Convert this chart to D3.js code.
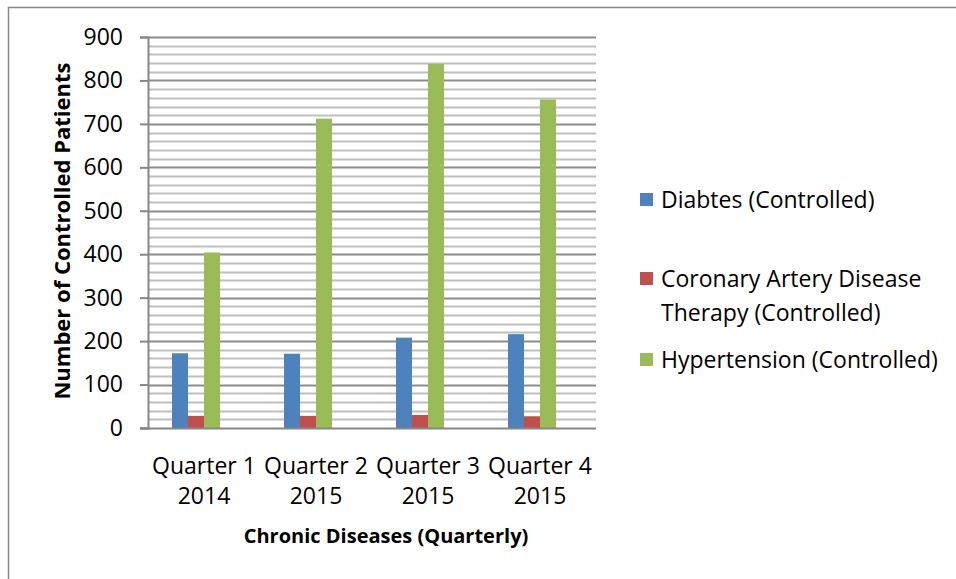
<!DOCTYPE html>
<html><head><meta charset="utf-8">
<script src="https://cdn.jsdelivr.net/npm/d3@7"></script>
<style>body{margin:0;background:#fff}svg{display:block;font-family:"Open Sans",sans-serif}</style>
</head><body><svg id="c" width="956" height="579"></svg>
<script>
const categories = [["Quarter 1","2014"],["Quarter 2","2015"],["Quarter 3","2015"],["Quarter 4","2015"]];
const seriesNames = ["Diabtes (Controlled)", "Coronary Artery Disease Therapy (Controlled)", "Hypertension (Controlled)"];
const diabetes = [172, 171, 208, 216];
const coronary = [28, 28, 30, 27];
const hypertension = [404, 712, 838, 756];
const yTicks = [0,100,200,300,400,500,600,700,800,900];
const colors = ["#4f81bd","#c0504d","#9bbb59"];
const series = [diabetes, coronary, hypertension];

const svg = d3.select("#c");
const m = {l:148, r:596, t:37, b:428};
svg.append("rect").attr("x",8.5).attr("y",7.5).attr("width",960).attr("height",600)
  .attr("fill","#fff").attr("stroke","#868686").attr("stroke-width",1.5);

const x = d3.scaleBand().domain(d3.range(categories.length)).range([m.l,m.r]).paddingInner(0).paddingOuter(0);
const y = d3.scaleLinear().domain([0,900]).range([m.b,m.t]);
// four slots per group (the fourth is an empty series slot in the original chart)
const gx = d3.scaleBand().domain(d3.range(4)).range([0,64]);
const off = (x.bandwidth()-64)/2;

// minor gridlines
const minor = d3.range(20,901,20).filter(v=>v%100!==0);
svg.append("g").selectAll("line").data(minor).join("line")
  .attr("x1",m.l).attr("x2",m.r).attr("y1",d=>Math.round(y(d))+0.5).attr("y2",d=>Math.round(y(d))+0.5)
  .attr("stroke","#bfbfbf").attr("stroke-width",2);
// major gridlines
svg.append("g").selectAll("line").data(yTicks.filter(v=>v>0)).join("line")
  .attr("x1",m.l).attr("x2",m.r).attr("y1",d=>Math.round(y(d))+0.5).attr("y2",d=>Math.round(y(d))+0.5)
  .attr("stroke","#8c8c8c").attr("stroke-width",2);

// bars
series.forEach((s,si)=>{
  svg.append("g").selectAll("rect").data(s).join("rect")
    .attr("x",(d,i)=>x(i)+off+gx(si)).attr("width",gx.bandwidth())
    .attr("y",d=>y(d)).attr("height",d=>y(0)-y(d)).attr("fill",colors[si]);
});

// y axis
const ya = svg.append("g").attr("transform",`translate(${m.l},0)`)
  .call(d3.axisLeft(y).tickValues(yTicks).tickSize(8).tickPadding(17));
ya.select(".domain").attr("stroke","#868686").attr("stroke-width",2);
ya.selectAll(".tick line").attr("stroke","#868686").attr("stroke-width",2);
ya.selectAll(".tick text").attr("font-size",23).attr("fill","#000").attr("font-family","Open Sans");
// x axis line
svg.append("line").attr("x1",m.l-8).attr("x2",m.r).attr("y1",m.b+0.5).attr("y2",m.b+0.5)
  .attr("stroke","#868686").attr("stroke-width",2);

// x labels
const xl = svg.append("g");
categories.forEach((c,i)=>{
  const cx = x(i)+x.bandwidth()/2;
  const t = xl.append("text").attr("text-anchor","middle").attr("font-size",23).attr("fill","#000");
  t.append("tspan").attr("x",cx).attr("y",474).text(c[0]);
  t.append("tspan").attr("x",cx).attr("y",504).text(c[1]);
});
svg.append("text").attr("x",386).attr("y",543).attr("text-anchor","middle")
  .attr("font-size",20).attr("font-weight","bold").text("Chronic Diseases (Quarterly)");
svg.append("text").attr("transform","translate(70,231) rotate(-90)").attr("text-anchor","middle")
  .attr("font-size",22).attr("font-weight","bold").text("Number of Controlled Patients");

// legend
const leg = [
  {lines:["Diabtes (Controlled)"], y:208},
  {lines:["Coronary Artery Disease","Therapy (Controlled)"], y:287},
  {lines:["Hypertension (Controlled)"], y:368}
];
leg.forEach((l,i)=>{
  svg.append("rect").attr("x",640).attr("y",l.y-15).attr("width",13).attr("height",13).attr("fill",colors[i]);
  const t = svg.append("text").attr("font-size",23).attr("fill","#000");
  l.lines.forEach((s,j)=>t.append("tspan").attr("x",661).attr("y",l.y+j*34).text(s));
});
</script></body></html>
